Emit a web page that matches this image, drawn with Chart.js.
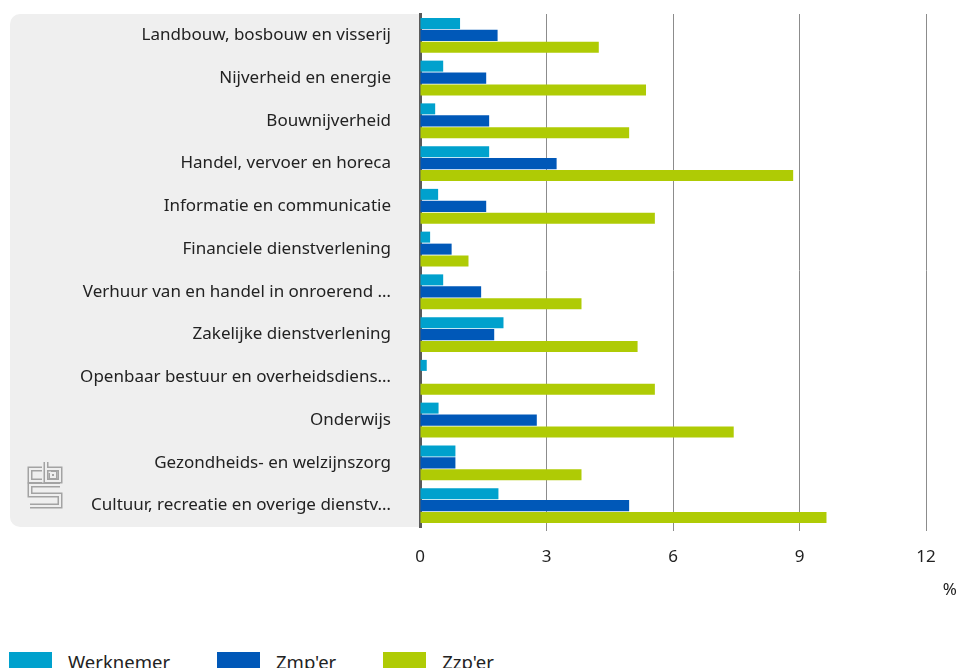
<!DOCTYPE html>
<html>
<head>
<meta charset="utf-8">
<script src="https://cdn.jsdelivr.net/npm/chart.js@4.4.1/dist/chart.umd.min.js"></script>
<style>
  body { margin: 0; width: 959px; height: 668px; overflow: hidden; background: #fff; font-family: "Noto Sans", sans-serif; }
  #wrap { position: relative; width: 959px; height: 642px; }
  #legend { position: absolute; left: 9px; top: 652px; display: flex; font-size: 18.5px; color: #222; }
  #legend .item { display: flex; align-items: flex-start; margin-right: 47px; }
  #legend .box { width: 43px; height: 18px; margin-right: 16px; }
  #legend .txt { line-height: 18px; margin-top: 1px; }
</style>
</head>
<body>
<div id="wrap"><canvas id="chart"></canvas></div>
<div id="legend"></div>
<script>
// categories (y axis)
var Sectoren = [
  "Landbouw, bosbouw en visserij",
  "Nijverheid en energie",
  "Bouwnijverheid",
  "Handel, vervoer en horeca",
  "Informatie en communicatie",
  "Financiele dienstverlening",
  "Verhuur van en handel in onroerend …",
  "Zakelijke dienstverlening",
  "Openbaar bestuur en overheidsdiens…",
  "Onderwijs",
  "Gezondheids- en welzijnszorg",
  "Cultuur, recreatie en overige dienstv…"
];
// series (%)
var Werknemer = [0.95, 0.55, 0.36, 1.64, 0.43, 0.24, 0.55, 1.98, 0.16, 0.44, 0.84, 1.86];
var Zmper     = [1.84, 1.57, 1.64, 3.24, 1.57, 0.75, 1.45, 1.76, 0, 2.77, 0.84, 4.96];
var Zzper     = [4.24, 5.36, 4.96, 8.85, 5.57, 1.15, 3.83, 5.16, 5.57, 7.44, 3.83, 9.64];
// x axis ticks
var Ticks = [0, 3, 6, 9, 12];

var font = "'Noto Sans', sans-serif";

// grey panel behind the labels + cbs logo + % unit
var decoration = {
  id: 'decoration',
  beforeDraw: function(chart) {
    var c = chart.ctx, a = chart.chartArea;
    c.save();
    c.fillStyle = '#efefef';
    c.beginPath();
    c.roundRect(10, a.top, a.left - 10, a.bottom - a.top, [10, 0, 0, 10]);
    c.fill();
    c.restore();
  },
  afterDraw: function(chart) {
    var c = chart.ctx;
    c.save();
    // logo
    var paths = [
      [[42, 469], [30, 469], [30, 481], [42, 481]],
      [[46, 462], [46, 481], [60, 481], [60, 469], [46, 469]],
      [[51, 473], [55, 473], [55, 477], [51, 477], [51, 473]],
      [[60, 485], [30, 485], [30, 495], [60, 495], [60, 506], [30, 506]]
    ];
    [[5, '#a3a3a3'], [2, '#efefef']].forEach(function(s) {
      c.lineWidth = s[0];
      c.strokeStyle = s[1];
      paths.forEach(function(p) {
        c.beginPath();
        c.moveTo(p[0][0], p[0][1]);
        for (var i = 1; i < p.length; i++) c.lineTo(p[i][0], p[i][1]);
        c.stroke();
      });
    });
    // unit
    c.fillStyle = '#222';
    c.font = '17px ' + font;
    c.textAlign = 'right';
    c.textBaseline = 'middle';
    c.fillText('%', 957, 590);
    c.restore();
  }
};

var ctx = document.getElementById('chart');
var chart = new Chart(ctx, {
  type: 'bar',
  data: {
    labels: Sectoren,
    datasets: [
      { label: 'Werknemer', data: Werknemer, backgroundColor: '#00a1cd' },
      { label: "Zmp'er", data: Zmper, backgroundColor: '#0058b8' },
      { label: "Zzp'er", data: Zzper, backgroundColor: '#afcb05' }
    ]
  },
  options: {
    indexAxis: 'y',
    responsive: true,
    maintainAspectRatio: false,
    animation: false,
    categoryPercentage: 0.842,
    barPercentage: 0.917,
    layout: { padding: { top: 14, right: 33, left: 0, bottom: 0 } },
    plugins: {
      legend: { display: false },
      tooltip: { enabled: false }
    },
    scales: {
      x: {
        min: 0,
        max: 12,
        afterBuildTicks: function(scale) {
          scale.ticks = Ticks.map(function(v) { return { value: v }; });
        },
        afterFit: function(scale) { scale.height = 115; },
        grid: {
          color: function(c) { return c.tick && c.tick.value === 0 ? 'rgba(0,0,0,0)' : '#8c8c8c'; },
          lineWidth: 1,
          tickLength: 4
        },
        border: { display: false },
        ticks: { font: { family: font, size: 17 }, color: '#222', padding: 16 }
      },
      y: {
        afterFit: function(scale) { scale.width = 420; },
        // tick length (not drawn) keeps the labels away from the axis
        grid: { display: false, drawTicks: true, tickLength: 29 },
        border: { display: true, color: '#5a5a5a', width: 3 },
        ticks: { font: { family: font, size: 17 }, color: '#222', padding: 0 }
      }
    }
  },
  plugins: [decoration]
});

// legend
var legend = document.getElementById('legend');
chart.data.datasets.forEach(function(ds) {
  var item = document.createElement('div');
  item.className = 'item';
  item.innerHTML = '<span class="box" style="background:' + ds.backgroundColor + '"></span><span class="txt">' + ds.label + '</span>';
  legend.appendChild(item);
});
</script>
</body>
</html>
